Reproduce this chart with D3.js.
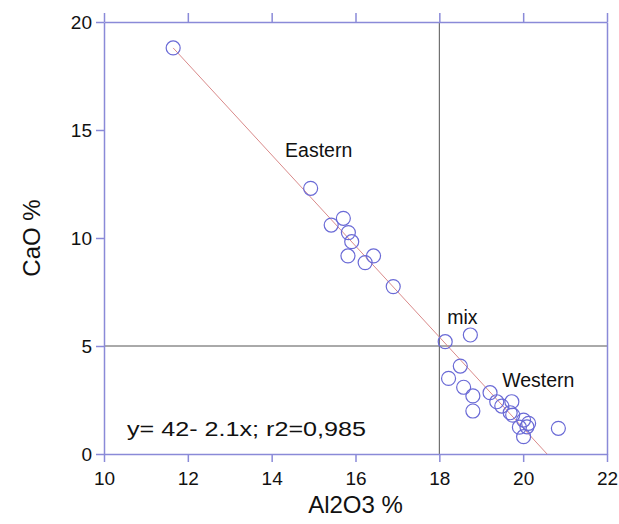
<!DOCTYPE html>
<html>
<head>
<meta charset="utf-8">
<script src="https://cdn.jsdelivr.net/npm/d3@7"></script>
<style>
  body { margin: 0; background: #fff; }
  text { font-family: "Liberation Sans", Arial, sans-serif; fill: #111; }
</style>
</head>
<body>
<svg id="chart" width="619" height="524"></svg>
<script>
// Al2O3 % (x) and CaO % (y) for each sample
const al2o3 = [11.65, 14.93, 15.42, 15.71, 15.83, 15.91, 15.82, 16.23, 16.43, 16.90,
               18.14, 18.74, 18.50, 18.22, 18.58, 18.80, 18.80, 19.21, 19.37, 19.49,
               19.73, 19.69, 19.75, 20.01, 20.13, 20.09, 19.91, 20.01, 20.84];
const cao   = [18.8, 12.30, 10.60, 10.91, 10.25, 9.83, 9.17, 8.86, 9.17, 7.75,
               5.20, 5.51, 4.07, 3.50, 3.09, 2.69, 1.99, 2.84, 2.42, 2.22,
               2.42, 1.91, 1.80, 1.57, 1.42, 1.26, 1.24, 0.80, 1.19];

// fitted line as drawn (end points)
const fitX = [11.65, 20.57];
const fitY = [18.8, 0];

// reference lines
const refX = 18;
const refY = 5;

const xTicks = [10, 12, 14, 16, 18, 20, 22];
const yTicks = [0, 5, 10, 15, 20];

const labels = [
  { text: "Eastern", x: 14.32, y: 13.75 },
  { text: "mix", x: 18.19, y: 6.02 },
  { text: "Western", x: 19.5, y: 3.1 }
];
const equation = "y= 42- 2.1x; r2=0,985";

const svg = d3.select("#chart");
const margin = { left: 104, right: 12, top: 22, bottom: 70 };
const w = +svg.attr("width");
const h = +svg.attr("height");

const x = d3.scaleLinear().domain([10, 22]).range([margin.left, w - margin.right]);
const y = d3.scaleLinear().domain([0, 20]).range([h - margin.bottom, margin.top]);

const axisColor = "#8a8ad8";

// grey reference lines
svg.append("line")
  .attr("x1", x(refX)).attr("x2", x(refX))
  .attr("y1", y(20)).attr("y2", y(0))
  .attr("stroke", "#555").attr("stroke-width", 1);
svg.append("line")
  .attr("x1", x(10)).attr("x2", x(22))
  .attr("y1", y(refY)).attr("y2", y(refY))
  .attr("stroke", "#555").attr("stroke-width", 1);

// axes
function styleAxis(g) {
  g.select(".domain").attr("stroke", axisColor).attr("stroke-width", 1.5);
  g.selectAll(".tick line").attr("stroke", axisColor).attr("stroke-width", 1.5);
  g.selectAll(".tick text").attr("font-size", 19).attr("fill", "#111")
    .attr("font-family", "Liberation Sans, Arial, sans-serif");
}

svg.append("g")
  .attr("transform", `translate(0,${y(0)})`)
  .call(d3.axisBottom(x).tickValues(xTicks).tickSize(8).tickSizeOuter(0).tickPadding(10))
  .call(styleAxis);

svg.append("g")
  .attr("transform", `translate(${x(10)},0)`)
  .call(d3.axisLeft(y).tickValues(yTicks).tickSize(8).tickSizeOuter(0).tickPadding(4))
  .call(styleAxis);

svg.append("g")
  .attr("transform", `translate(0,${y(20)})`)
  .call(d3.axisTop(x).tickValues(xTicks).tickSize(9).tickSizeOuter(0).tickFormat(""))
  .call(styleAxis);

svg.append("g")
  .attr("transform", `translate(${x(22)},0)`)
  .call(d3.axisRight(y).tickValues([]).tickSizeOuter(0))
  .call(styleAxis);

// regression line
svg.append("line")
  .attr("x1", x(fitX[0])).attr("y1", y(fitY[0]))
  .attr("x2", x(fitX[1])).attr("y2", y(fitY[1]))
  .attr("stroke", "#d98a8a").attr("stroke-width", 1);

// points
svg.selectAll(".pt")
  .data(d3.range(al2o3.length))
  .join("circle")
  .attr("class", "pt")
  .attr("cx", i => x(al2o3[i]))
  .attr("cy", i => y(cao[i]))
  .attr("r", 7)
  .attr("fill", "none")
  .attr("stroke", "#6a6ad6")
  .attr("stroke-width", 1.2);

// labels
svg.selectAll(".lbl")
  .data(labels)
  .join("text")
  .attr("class", "lbl")
  .attr("x", d => x(d.x))
  .attr("y", d => y(d.y))
  .attr("font-size", 19.5)
  .text(d => d.text);

svg.append("text")
  .attr("x", x(10.55))
  .attr("y", y(0.83))
  .attr("font-size", 20)
  .attr("textLength", 239)
  .attr("lengthAdjust", "spacingAndGlyphs")
  .text(equation);

// axis titles
svg.append("text")
  .attr("x", (x(10) + x(22)) / 2)
  .attr("y", 513)
  .attr("text-anchor", "middle")
  .attr("font-size", 24)
  .text("Al2O3 %");

svg.append("text")
  .attr("transform", `translate(40,${(y(0) + y(20)) / 2}) rotate(-90)`)
  .attr("text-anchor", "middle")
  .attr("font-size", 24)
  .text("CaO %");
</script>
</body>
</html>
